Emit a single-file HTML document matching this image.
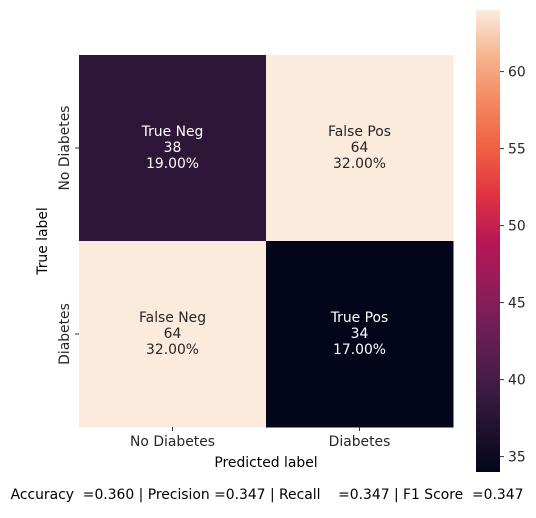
<!DOCTYPE html>
<html><head><meta charset="utf-8"><style>
body{margin:0;background:#fff;}
svg text{font-family:"DejaVu Sans","Liberation Sans",sans-serif;font-size:13.9px;}
</style></head><body>
<svg id="chart" width="536" height="513" xmlns="http://www.w3.org/2000/svg">
<defs>
<linearGradient id="rocket" x1="0" y1="1" x2="0" y2="0">
<stop offset="0" stop-color="#03051A"/><stop offset="0.1" stop-color="#221331"/>
<stop offset="0.2" stop-color="#451C47"/><stop offset="0.3" stop-color="#6A1F56"/>
<stop offset="0.4" stop-color="#921C5B"/><stop offset="0.5" stop-color="#B91657"/>
<stop offset="0.6" stop-color="#E13342"/><stop offset="0.7" stop-color="#F06043"/>
<stop offset="0.8" stop-color="#F4875E"/><stop offset="0.9" stop-color="#F6B48E"/>
<stop offset="1" stop-color="#FAEBDD"/>
</linearGradient>
</defs>
<g id="cells"></g>
<rect x="476" y="10" width="24" height="462" fill="url(#rocket)"/>
<g id="cbticks"></g>
<g id="axes"></g>
<text x="266" y="467" text-anchor="middle">Predicted label</text>
<text transform="translate(47,241) rotate(-90)" text-anchor="middle">True label</text>
<text x="267" y="499" text-anchor="middle" xml:space="preserve">Accuracy  =0.360 | Precision =0.347 | Recall    =0.347 | F1 Score  =0.347</text>
</svg>
<script>
const categories = ["No Diabetes", "Diabetes"];
const counts = [[38, 64], [64, 34]];
const cellLabels = [["True Neg", "False Pos"], ["False Neg", "True Pos"]];
const cbTicks = [35, 40, 45, 50, 55, 60];
const vmin = 34, vmax = 64;

const NS = "http://www.w3.org/2000/svg";
const X0 = 79, Y0 = 55, W = 374, H = 372;
const cw = W / categories.length, ch = H / categories.length;
const stops = [[0,"#03051A"],[0.1,"#221331"],[0.2,"#451C47"],[0.3,"#6A1F56"],[0.4,"#921C5B"],[0.5,"#B91657"],[0.6,"#E13342"],[0.7,"#F06043"],[0.8,"#F4875E"],[0.9,"#F6B48E"],[1,"#FAEBDD"]];
function hex(h){return [1,3,5].map(i=>parseInt(h.substr(i,2),16));}
function cmap(v){
  let t = Math.max(0, Math.min(1, (v - vmin) / (vmax - vmin)));
  for (let i = 0; i < stops.length - 1; i++) {
    if (t <= stops[i+1][0]) {
      const f = (t - stops[i][0]) / (stops[i+1][0] - stops[i][0]);
      const a = hex(stops[i][1]), b = hex(stops[i+1][1]);
      return "rgb(" + a.map((c, k) => Math.round(c + (b[k] - c) * f)).join(",") + ")";
    }
  }
  return stops[stops.length-1][1];
}
const total = counts.flat().reduce((a, b) => a + b, 0);
const cells = document.getElementById("cells");
function el(tag, attrs, parent, txt){
  const e = document.createElementNS(NS, tag);
  for (const k in attrs) e.setAttribute(k, attrs[k]);
  if (txt !== undefined) e.textContent = txt;
  parent.appendChild(e);
  return e;
}
counts.forEach((row, r) => row.forEach((v, c) => {
  const rect = el("rect", {x: X0 + c*cw, y: Y0 + r*ch, width: cw + 0.5, height: ch + 0.5, fill: cmap(v)}, cells);
  
  
  const t = (v - vmin) / (vmax - vmin);
  const col = t > 0.5 ? "#262626" : "#ffffff";
  const cx = X0 + (c + 0.5) * cw, cy = Y0 + (r + 0.5) * ch;
  const lines = [cellLabels[r][c], String(v), (100 * v / total).toFixed(2) + "%"];
  lines.forEach((s, i) => {
    const tx = el("text", {x: cx, y: cy - 12 + i * 16, "text-anchor": "middle", fill: col}, cells, s);
    
    
  });
}));
const axes = document.getElementById("axes");
categories.forEach((name, i) => {
  const x = X0 + (i + 0.5) * cw;
  el("line", {x1: x, y1: Y0 + H, x2: x, y2: Y0 + H + 4, stroke: "#333"}, axes);
  const tx = el("text", {x: x, y: Y0 + H + 19, "text-anchor": "middle", fill: "#262626"}, axes, name);
  
  
  const y = Y0 + (i + 0.5) * ch;
  el("line", {x1: X0 - 4, y1: y, x2: X0, y2: y, stroke: "#333"}, axes);
  const ty = el("text", {transform: "translate(" + (X0 - 10) + "," + y + ") rotate(-90)", "text-anchor": "middle", fill: "#262626"}, axes, name);
  
  
});
const cbt = document.getElementById("cbticks");
const cbTop = 10, cbH = 462;
cbTicks.forEach(v => {
  const y = cbTop + cbH * (1 - (v - vmin) / (vmax - vmin));
  el("line", {x1: 500, y1: y, x2: 504, y2: y, stroke: "#333"}, cbt);
  const t = el("text", {x: 508, y: y + 5, fill: "#262626"}, cbt, String(v));
  
  
});
</script>
</body></html>
